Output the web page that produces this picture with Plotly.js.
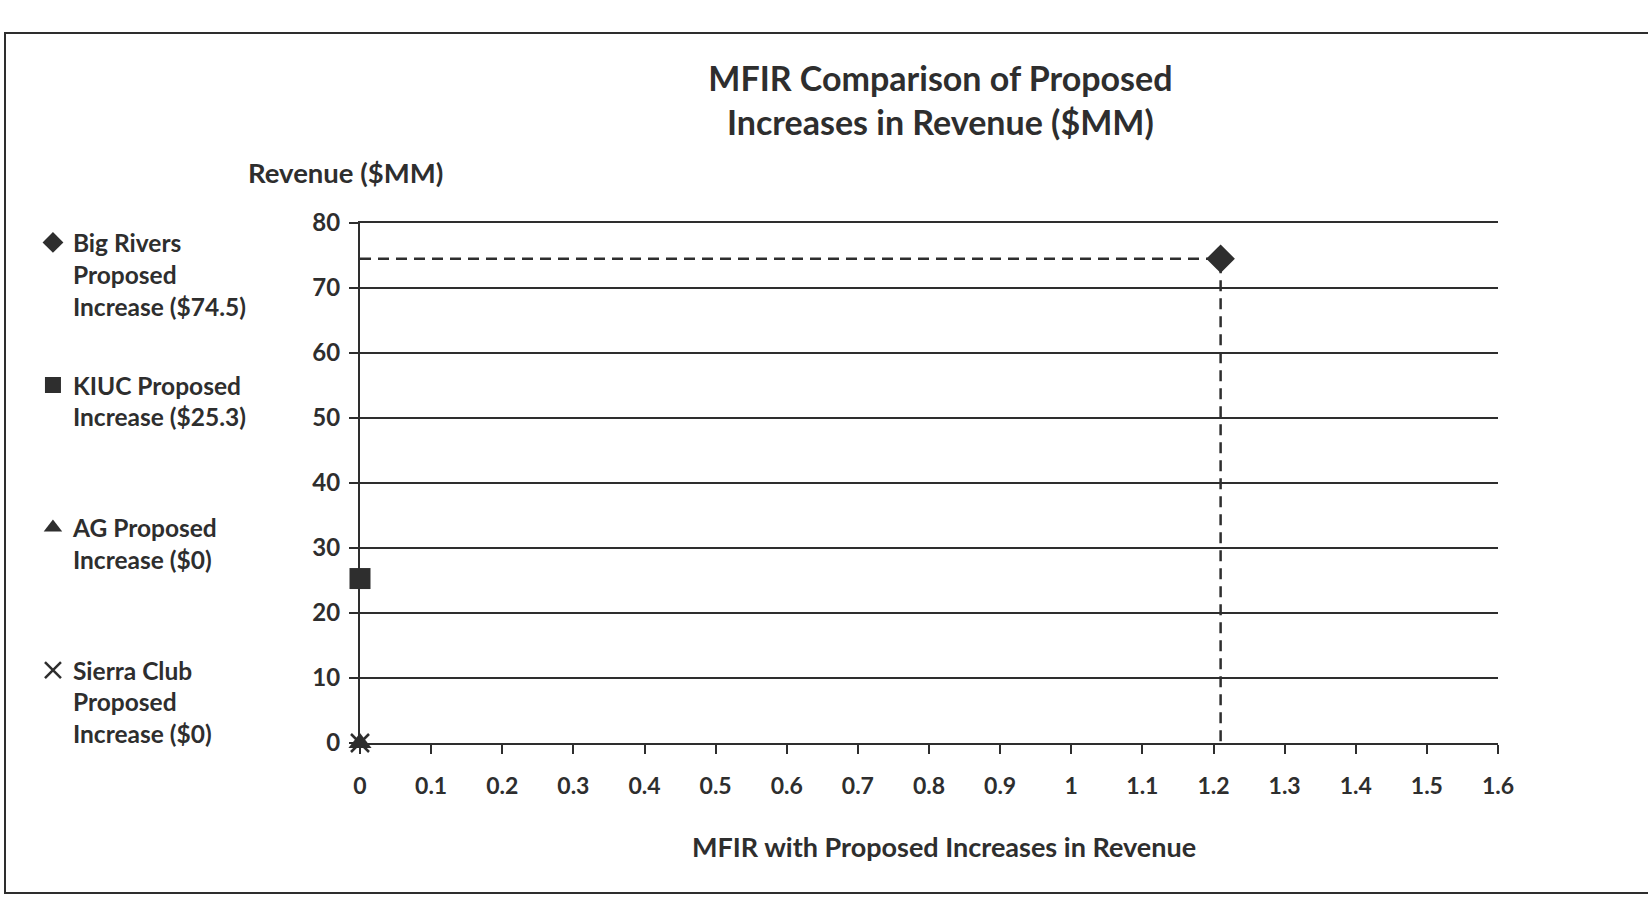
<!DOCTYPE html>
<html>
<head>
<meta charset="utf-8">
<script src="https://cdn.plot.ly/plotly-3.0.1.min.js"></script>
<style>html,body{margin:0;padding:0;background:#fff;}#chart{width:1648px;height:914px;}</style>
</head>
<body>
<div id="chart"></div>
<script>
// Data
const seriesNames = [
  "Big Rivers<br>Proposed<br>Increase ($74.5)",
  "KIUC Proposed<br>Increase ($25.3)<br>&nbsp;",
  "AG Proposed<br>Increase ($0)<br>&nbsp;",
  "Sierra Club<br>Proposed<br>Increase ($0)"
];
const mfirValues = [1.21, 0, 0, 0];
const revenueValues = [74.5, 25.3, 0, 0];
const markerSymbols = ["diamond", "square", "triangle-up", "x-thin"];
// Dashed guide for Big Rivers
const guideX = [0, 1.21, 1.21];
const guideY = [74.5, 74.5, 0];
const xTicks = [0, 0.1, 0.2, 0.3, 0.4, 0.5, 0.6, 0.7, 0.8, 0.9, 1, 1.1, 1.2, 1.3, 1.4, 1.5, 1.6];
const yTicks = [0, 10, 20, 30, 40, 50, 60, 70, 80];

const ink = "#2e2e2e";
const fontFam = "Lato, 'Open Sans', sans-serif";

const traces = [{
  x: guideX, y: guideY, mode: "lines", showlegend: false, hoverinfo: "skip",
  line: {color: ink, width: 2.5, dash: "11px,7px"}
}];
const sizes = [22, 21, 20, 18];
seriesNames.forEach((n, i) => {
  traces.push({
    x: [mfirValues[i]], y: [revenueValues[i]], name: n, mode: "markers",
    cliponaxis: false, legendgroup: "g" + i,
    marker: {symbol: markerSymbols[i], size: sizes[i], color: ink,
             line: {color: ink, width: markerSymbols[i] === "x-thin" ? 2.5 : 0}}
  });
});

const layout = {
  width: 1648, height: 914,
  paper_bgcolor: "#fff", plot_bgcolor: "#fff",
  margin: {l: 360, r: 150, t: 223, b: 171},
  font: {family: fontFam, color: ink, size: 23},
  title: {
    text: "<b>MFIR Comparison of Proposed<br>Increases in Revenue ($MM)</b>",
    font: {family: fontFam, size: 34, color: ink},
    x: 0.51, xanchor: "center", xref: "paper",
    y: 1 - 91 / 914, yanchor: "top", yref: "container"
  },
  xaxis: {
    range: [0, 1.6], tickvals: xTicks, ticktext: xTicks.map(String),
    showgrid: false, zeroline: false, showline: true, mirror: true, linecolor: ink, linewidth: 2,
    ticks: "outside", ticklen: 9, tickwidth: 2, tickcolor: ink, ticklabelstandoff: 12,
    tickfont: {family: fontFam, size: 23, color: ink, weight: "bold"}
  },
  yaxis: {
    range: [0, 80], tickvals: yTicks, ticktext: yTicks.map(String),
    showgrid: true, gridcolor: ink, gridwidth: 1.8,
    zeroline: false, showline: true, linecolor: ink, linewidth: 2,
    ticks: "outside", ticklen: 9, tickwidth: 2, tickcolor: ink, ticklabelstandoff: 4,
    tickfont: {family: fontFam, size: 24, color: ink, weight: "bold"}
  },
  legend: {
    xref: "container", yref: "container", x: 0.02, y: 1 - 220 / 914,
    xanchor: "left", yanchor: "top", valign: "top",
    tracegroupgap: 44, itemsizing: "trace", maxheight: 900,
    font: {family: fontFam, size: 24.5, color: ink, weight: "bold"},
    bgcolor: "rgba(0,0,0,0)"
  },
  annotations: [{
    text: "<b>Revenue ($MM)</b>", xref: "paper", yref: "paper",
    x: (345 - 360) / 1138, y: (743 - 173) / 520, xanchor: "center", yanchor: "middle",
    showarrow: false, font: {family: fontFam, size: 27.5, color: ink}
  }, {
    text: "<b>MFIR with Proposed Increases in Revenue</b>", xref: "paper", yref: "paper",
    x: (944 - 360) / 1138, y: (743 - 846) / 520, xanchor: "center", yanchor: "middle",
    showarrow: false, font: {family: fontFam, size: 27, color: ink}
  }],
  shapes: [{
    type: "rect", xref: "paper", yref: "paper",
    x0: (5 - 360) / 1138, x1: (1660 - 360) / 1138,
    y0: (743 - 893) / 520, y1: (743 - 33) / 520,
    line: {color: ink, width: 2}, fillcolor: "rgba(0,0,0,0)", layer: "below"
  }]
};

Plotly.newPlot("chart", traces, layout, {displayModeBar: false, staticPlot: true});
</script>
</body>
</html>
